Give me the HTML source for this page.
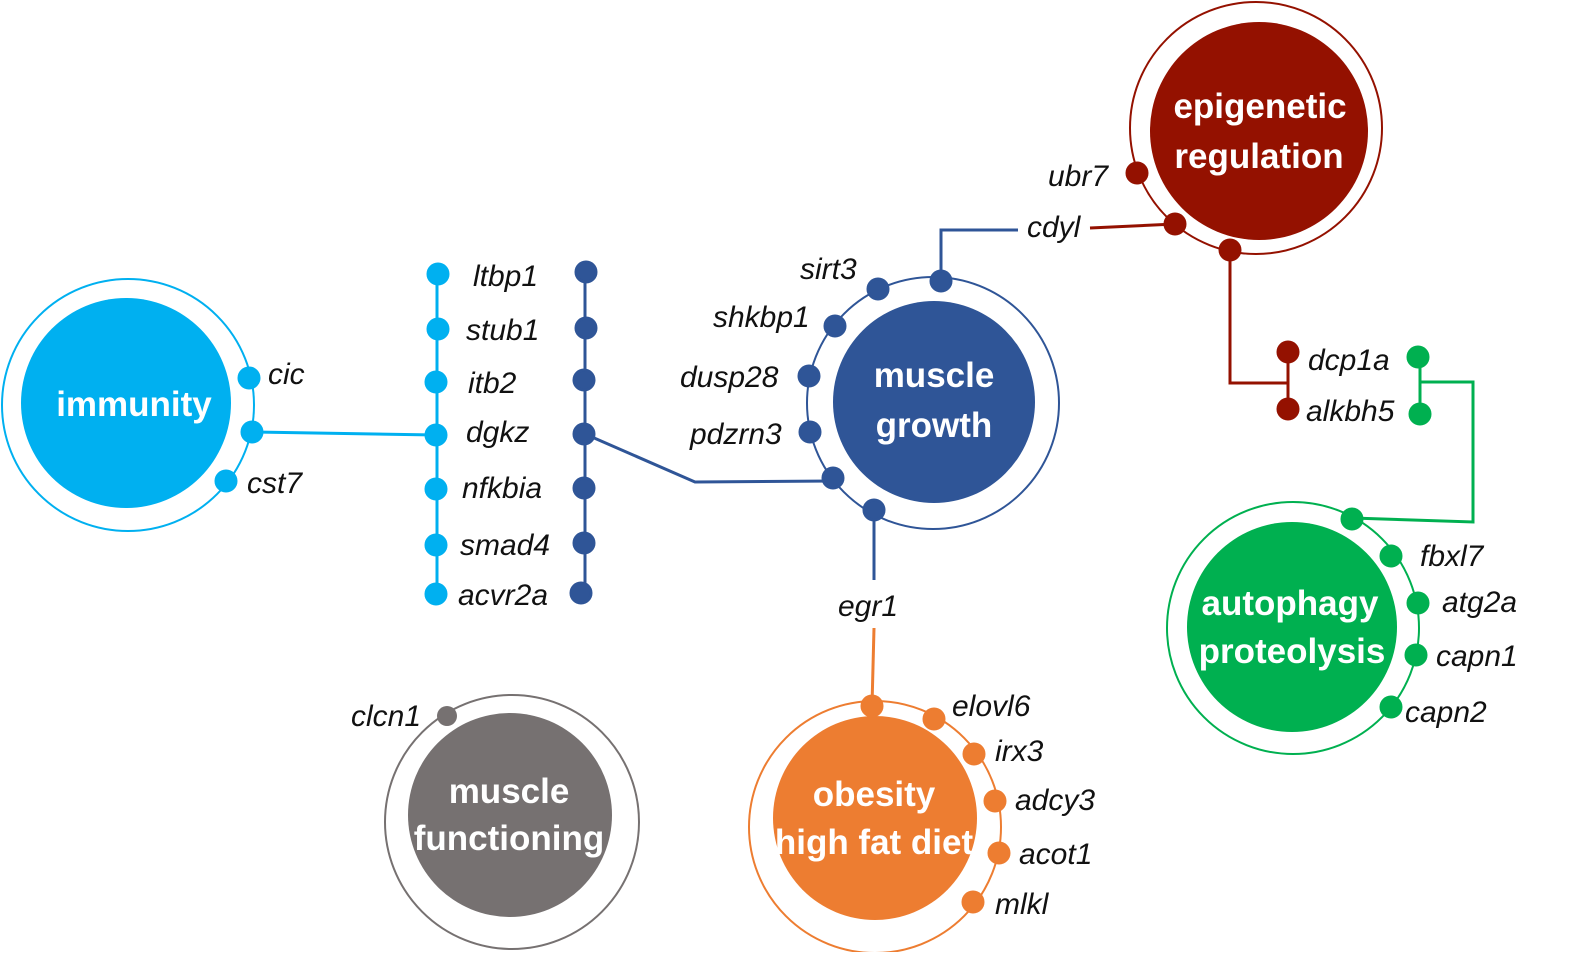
<!DOCTYPE html>
<html><head><meta charset="utf-8"><style>
html,body{margin:0;padding:0;background:#fff;}
svg text{font-family:"Liberation Sans",sans-serif;}
.g{font-style:italic;font-size:30px;fill:#111;}
.t{font-weight:bold;font-size:35px;fill:#fff;text-anchor:middle;}
</style></head><body>
<svg width="1573" height="952" viewBox="0 0 1573 952" xmlns="http://www.w3.org/2000/svg">
<!-- immunity -->
<circle cx="128" cy="405" r="126" fill="none" stroke="#00b0f0" stroke-width="2"/>
<circle cx="126" cy="403" r="105" fill="#00b0f0"/>
<text class="t" x="134" y="416">immunity</text>
<g fill="#00b0f0" stroke="#00b0f0" stroke-width="3">
<line x1="252" y1="432" x2="436" y2="435"/>
<line x1="437" y1="274" x2="437" y2="594"/>
<circle cx="249" cy="378" r="10"/><circle cx="252" cy="432" r="10"/><circle cx="226" cy="481" r="10"/>
<circle cx="438" cy="274" r="10"/><circle cx="438" cy="329" r="10"/><circle cx="436" cy="382" r="10"/><circle cx="436" cy="435" r="10"/><circle cx="436" cy="489" r="10"/><circle cx="436" cy="545" r="10"/><circle cx="436" cy="594" r="10"/>
</g>
<text class="g" x="268" y="384">cic</text>
<text class="g" x="247" y="493">cst7</text>
<text class="g" x="473" y="286">ltbp1</text>
<text class="g" x="466" y="340">stub1</text>
<text class="g" x="468" y="393">itb2</text>
<text class="g" x="466" y="442">dgkz</text>
<text class="g" x="462" y="498">nfkbia</text>
<text class="g" x="460" y="555">smad4</text>
<text class="g" x="458" y="605">acvr2a</text>
<!-- muscle growth -->
<circle cx="933" cy="403" r="126" fill="none" stroke="#2f5597" stroke-width="2"/>
<circle cx="934" cy="402" r="101" fill="#2f5597"/>
<text class="t" x="934" y="387">muscle</text>
<text class="t" x="934" y="437">growth</text>
<g fill="#2f5597" stroke="#2f5597" stroke-width="3">
<line x1="585" y1="272" x2="585" y2="593"/>
<polyline fill="none" points="585,434 695,482 833,481"/>
<polyline fill="none" points="941,281 941,230 1018,230"/>
<line x1="874" y1="510" x2="874" y2="580"/>
<circle cx="586" cy="272" r="10"/><circle cx="586" cy="328" r="10"/><circle cx="584" cy="380" r="10"/><circle cx="584" cy="434" r="10"/><circle cx="584" cy="488" r="10"/><circle cx="584" cy="543" r="10"/><circle cx="581" cy="593" r="10"/>
<circle cx="878" cy="289" r="10"/><circle cx="941" cy="281" r="10"/><circle cx="835" cy="326" r="10"/><circle cx="809" cy="376" r="10"/><circle cx="810" cy="432" r="10"/><circle cx="833" cy="478" r="10"/><circle cx="874" cy="510" r="10"/>
</g>
<text class="g" x="800" y="279">sirt3</text>
<text class="g" x="713" y="327">shkbp1</text>
<text class="g" x="680" y="387">dusp28</text>
<text class="g" x="690" y="444">pdzrn3</text>
<text class="g" x="838" y="616">egr1</text>
<text class="g" x="1027" y="237">cdyl</text>
<!-- epigenetic -->
<circle cx="1256" cy="128" r="126" fill="none" stroke="#941100" stroke-width="2"/>
<circle cx="1259" cy="131" r="109" fill="#941100"/>
<text class="t" x="1260" y="118">epigenetic</text>
<text class="t" x="1259" y="168">regulation</text>
<g fill="#941100" stroke="#941100" stroke-width="3">
<line x1="1090" y1="228" x2="1175" y2="224"/>
<polyline fill="none" points="1230,250 1230,383 1288,383"/>
<line x1="1288" y1="352" x2="1288" y2="409"/>
<circle cx="1137" cy="173" r="10"/><circle cx="1175" cy="224" r="10"/><circle cx="1230" cy="250" r="10"/>
<circle cx="1288" cy="352" r="10"/><circle cx="1288" cy="409" r="10"/>
</g>
<text class="g" x="1048" y="186">ubr7</text>
<text class="g" x="1308" y="370">dcp1a</text>
<text class="g" x="1306" y="421">alkbh5</text>
<!-- autophagy -->
<circle cx="1293" cy="628" r="126" fill="none" stroke="#00b050" stroke-width="2"/>
<circle cx="1292" cy="627" r="105" fill="#00b050"/>
<text class="t" x="1290" y="615">autophagy</text>
<text class="t" x="1292" y="663">proteolysis</text>
<g fill="#00b050" stroke="#00b050" stroke-width="3">
<line x1="1420" y1="357" x2="1420" y2="414"/>
<polyline fill="none" points="1420,382 1473,382 1473,522 1352,518"/>
<circle cx="1418" cy="357" r="10"/><circle cx="1420" cy="414" r="10"/>
<circle cx="1352" cy="519" r="10"/><circle cx="1391" cy="556" r="10"/><circle cx="1418" cy="603" r="10"/><circle cx="1416" cy="655" r="10"/><circle cx="1391" cy="707" r="10"/>
</g>
<text class="g" x="1420" y="566">fbxl7</text>
<text class="g" x="1442" y="612">atg2a</text>
<text class="g" x="1436" y="666">capn1</text>
<text class="g" x="1405" y="722">capn2</text>
<!-- obesity -->
<circle cx="875" cy="827" r="126" fill="none" stroke="#ed7d31" stroke-width="2"/>
<circle cx="875" cy="818" r="102" fill="#ed7d31"/>
<text class="t" x="874" y="806">obesity</text>
<text class="t" x="874" y="854">high fat diet</text>
<g fill="#ed7d31" stroke="#ed7d31" stroke-width="3">
<line x1="874" y1="628" x2="872" y2="706"/>
<circle cx="872" cy="706" r="10"/><circle cx="934" cy="719" r="10"/><circle cx="974" cy="754" r="10"/><circle cx="995" cy="801" r="10"/><circle cx="999" cy="853" r="10"/><circle cx="973" cy="902" r="10"/>
</g>
<text class="g" x="952" y="716">elovl6</text>
<text class="g" x="995" y="761">irx3</text>
<text class="g" x="1015" y="810">adcy3</text>
<text class="g" x="1019" y="864">acot1</text>
<text class="g" x="995" y="914">mlkl</text>
<!-- muscle functioning -->
<circle cx="512" cy="822" r="127" fill="none" stroke="#767171" stroke-width="2"/>
<circle cx="510" cy="815" r="102" fill="#767171"/>
<text class="t" x="509" y="803">muscle</text>
<text class="t" x="509" y="850">functioning</text>
<circle cx="447" cy="716" r="10" fill="#767171"/>
<text class="g" x="351" y="726">clcn1</text>
</svg>
</body></html>
